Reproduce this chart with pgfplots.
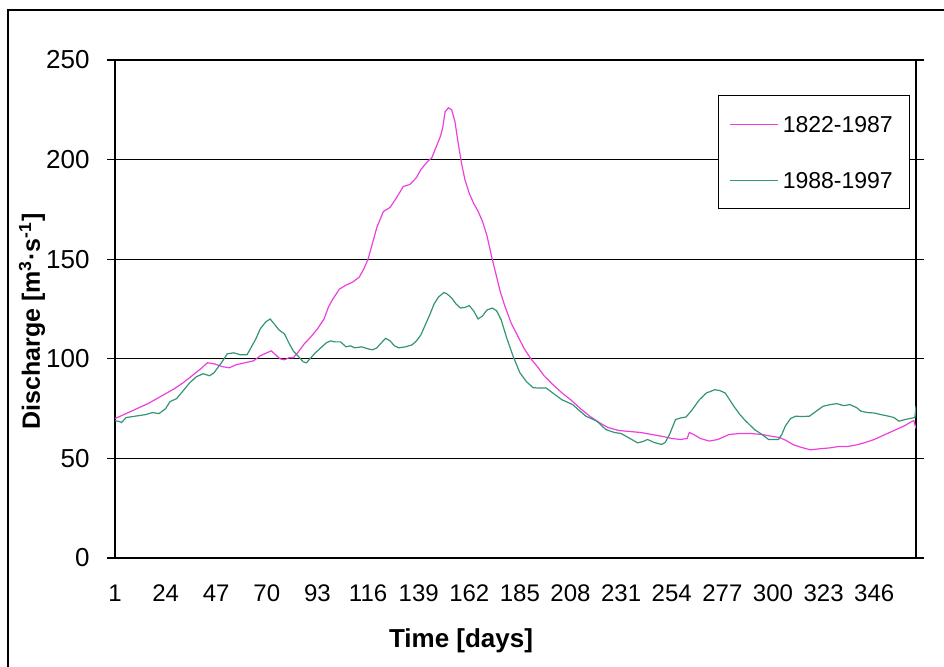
\documentclass[border=0pt]{standalone}
\usepackage{fontspec}
\setmainfont{Liberation Sans}
\usepackage{pgfplots}
\pgfplotsset{compat=1.18}
\definecolor{pinkline}{RGB}{236,64,222}
\definecolor{tealline}{RGB}{52,148,118}

\begin{document}
\begin{tikzpicture}
\useasboundingbox (0,0) rectangle (472pt,333pt);
% outer chart frame (runs off the right and bottom edges)
\draw[line width=0.6pt] (4pt,328pt) rectangle (490pt,-20pt);
\begin{axis}[
    at={(57.5pt,54pt)}, anchor=south west,
    scale only axis, width=400.5pt, height=249pt,
    xmin=1, xmax=365, ymin=0, ymax=250,
    xtick={1,24,47,70,93,116,139,162,185,208,231,254,277,300,323,346},
    ytick={0,50,100,150,200,250},
    /pgf/number format/assume math mode=true,
    tick align=outside,
    major tick length=4pt,
    xtick style={draw=none},
    ytick style={black, line width=0.6pt},
    axis line style={black, line width=0.7pt},
    ymajorgrids, grid style={black, line width=0.6pt},
    xticklabel style={font=\fontsize{12}{12}\selectfont,
        anchor=center, inner sep=0pt, yshift=-13.5pt},
    yticklabel style={font=\fontsize{13}{13}\selectfont,
        anchor=east, inner sep=0pt, xshift=-8.5pt},
    xlabel={\bfseries Time [days]},
    xlabel style={font=\fontsize{13}{13}\selectfont,
        at={(axis description cs:0.432,-0.1667)}, anchor=center},
    ylabel={\bfseries Discharge [m\textsuperscript{3}·s\textsuperscript{-1}]},
    ylabel style={font=\fontsize{12.5}{12.5}\selectfont,
        at={(axis description cs:-0.1036,0.475)}, anchor=center},
    legend image code/.code={\draw[#1] (0pt,0pt) -- (24pt,0pt); \path (26pt,0pt);},
    legend cell align=left,
    legend style={at={(axis description cs:0.7528,0.9297)}, anchor=north west,
        draw=black, line width=0.6pt, fill=white,
        inner xsep=5.5pt, inner ysep=10pt, row sep=19.5pt,
        font=\fontsize{11.5}{11.5}\selectfont,
        nodes={inner sep=0pt, text height=8.5pt, text depth=0pt},
        /tikz/every even column/.append style={column sep=0pt}},
]
\addplot[pinkline, line width=0.6pt] coordinates {
(1,70) (4,71.5) (8,73.5) (12,75.5) (16,77.5) (20,80) (24,82.5) (28,85)
(32,88) (36,91.5) (40,95) (43,98) (46,97.5) (50,96) (53,95.5) (56,97)
(60,98) (64,99) (67,101.5) (70,103) (72,104) (74,102) (76,100) (78,99.5)
(80,100.5) (82,100.5) (84,103) (87,107.5) (90,111) (93,115) (96,120)
(98,126) (100,130) (103,135) (106,137) (109,138.5) (112,141) (114,145)
(116,150) (118,158) (120,166) (123,174) (126,176) (129,181) (132,186.5)
(135,187.5) (138,191) (140,195) (143,199) (145,201) (147,206.5) (149,212)
(150,216.5) (151,224) (152.5,226) (154,225) (155.5,219) (157,208)
(158.5,198) (160,190) (162,183) (164,178) (166,174) (168,169) (170,162)
(172,152) (174,143) (176,134) (178,127) (181,118) (184,111.5) (187,105)
(190,100) (193,96) (196,91.5) (200,87) (204,83) (208,79.5) (213,74.5)
(217,71) (221,68) (225,65.5) (230,64) (235,63.5) (240,63) (245,62)
(250,61) (254,60) (258,59.5) (261,60) (262,63) (264,62) (267,60)
(271,58.7) (275,59.5) (280,62) (285,62.5) (290,62.5) (295,62) (300,61)
(303,60.5) (306,59) (309,57) (313,55.5) (317,54.3) (321,54.8) (326,55.3)
(330,56) (334,56) (338,56.8) (342,58) (346,59.5) (350,61.5) (354,63.5)
(357,65) (360,66.5) (363,68.5) (364,69) (365,65)
};
\addlegendentry{1822-1987\kern3pt}
\addplot[tealline, line width=0.6pt] coordinates {
(1,69) (3,68.5) (4,68) (6,70.5) (9,71) (12,71.5) (15,72) (18,73) (21,72.5)
(24,75) (26,78.5) (29,80) (32,84) (35,88) (38,91) (41,92.5) (44,91.5)
(46,93) (48,96) (50,99) (52,102.5) (55,103) (58,102) (61,102) (63,106)
(65,110) (67,115) (69.5,118.5) (71.5,120) (73,118) (75.5,114.5) (78,112.5)
(80,108) (82,104) (84.5,101) (86.5,98.5) (88,98) (90,100.5) (92,103)
(94.5,105.5) (97,108) (99,109) (101,108.5) (103.5,108.5) (106,106)
(108,106.5) (110,105.5) (113,106) (116,105) (118,104.5) (120,105.5)
(122,108) (124,110.3) (126,109) (128,106.5) (130,105.5) (133,106) (136,107)
(138,109) (140,112) (142,117) (144,122) (146,127.5) (148,131) (150.5,133.3)
(152,132.5) (154,130.5) (156,127.5) (158,125.5) (160,125.8) (162,126.7)
(164,124) (166,120) (168,121.5) (170,124.5) (172.5,125.5) (174.5,124)
(176.5,119.5) (179,110.5) (182,101) (185,93) (188,88.5) (191,85.5)
(194,85.3) (197,85.3) (200,82.8) (204,79.5) (209,77) (212,74) (215,71.2)
(220,68.7) (224,64.5) (228,63) (231,62.5) (235,60) (238.5,57.8) (241,58.5)
(243,59.5) (246,58) (249.4,57) (251,58) (253,62) (255.7,69.5) (258,70.3)
(260.5,70.8) (263,74) (266.6,79.5) (269.7,82.8) (273.6,84.5) (276,84)
(278.3,82.8) (280,80) (282.2,76.2) (285,72) (287,69.5) (291.6,64.5)
(295,62) (298,59.5) (302.5,59.5) (304,62) (305.6,66.2) (308,70)
(310.3,71.2) (313,71) (316.6,71.2) (320,74) (322.8,76.2) (326,77)
(329,77.5) (332,76.5) (335,77) (338,75.5) (340,73.7) (343,73) (346,72.8)
(349,72) (352.5,71.2) (355,70.5) (357.2,68.7) (360,69.5) (363.4,70.3)
(364.5,70.5) (365,76.2)
};
\addlegendentry{1988-1997\kern3pt}
\end{axis}
\end{tikzpicture}
\end{document}
